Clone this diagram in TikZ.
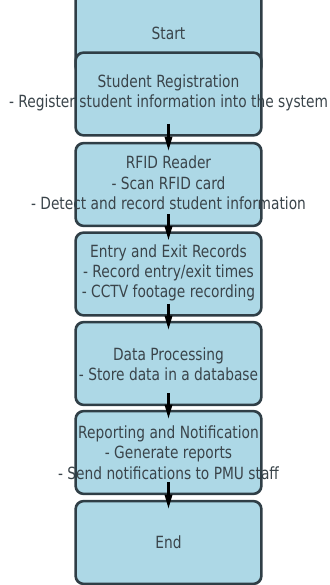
\documentclass[tikz,border=0pt]{standalone}
\usepackage{fontspec}
\setmainfont{DejaVu Sans}
\newfontfamily\lblfont[FakeStretch=0.82]{DejaVu Sans}
\usetikzlibrary{arrows.meta}
\definecolor{boxfill}{HTML}{ADD8E6}
\definecolor{boxline}{HTML}{2F3E46}
\definecolor{txt}{HTML}{3A444A}
\begin{document}
\begin{tikzpicture}[x=0.75pt,y=-0.75pt,
  box/.style={fill=boxfill, draw=boxline, line width=1.2pt, rounded corners=6pt,
    minimum width=138.75pt, minimum height=61.5pt, inner sep=0pt},
  rim/.style={draw=boxline, line width=1.2pt, rounded corners=6pt},
  lbl/.style={text=txt, font=\lblfont\fontsize{12.6pt}{15.2pt}\selectfont, align=center, inner sep=0pt},
  arr/.style={draw=black, line width=1.6pt, -{Triangle[length=10.5pt,width=5.5pt]}}]
\useasboundingbox (0,0) rectangle (329,585);
\clip (0,0) rectangle (329,585);
% Start
\node[box] (start) at (168.5,33) {};
\node[lbl] (tstart) at (168.5,33) {Start};
\draw[rim] (start.south west) rectangle (start.north east);
% Student Registration
\node[box] (sr) at (168.5,94) {};
\node[lbl] (tsr) at (168.5,93) {Student Registration\\- Register student information into the system};
\draw[rim] (sr.south west) rectangle (sr.north east);
% RFID
\node[box] (rfid) at (168.5,184.5) {};
\node[lbl] (trfid) at (168.5,183) {RFID Reader\\- Scan RFID card\\- Detect and record student information};
\draw[rim] (rfid.south west) rectangle (rfid.north east);
% Entry
\node[box] (entry) at (168.5,274) {};
\node[lbl] (tentry) at (168.5,273) {Entry and Exit Records\\- Record entry/exit times\\- CCTV footage recording};
\draw[rim] (entry.south west) rectangle (entry.north east);
% Data processing
\node[box] (dp) at (168.5,363.5) {};
\node[lbl] (tdp) at (168.5,364) {Data Processing\\- Store data in a database};
\draw[rim] (dp.south west) rectangle (dp.north east);
% Reporting
\node[box] (rep) at (168.5,452.5) {};
\node[lbl] (trep) at (168.5,452.5) {Reporting and Notification\\- Generate reports\\- Send notifications to PMU staff};
\draw[rim] (rep.south west) rectangle (rep.north east);
% End
\node[box] (end) at (168.5,542.5) {};
\node[lbl] (tend) at (168.5,542.5) {End};
\draw[rim] (end.south west) rectangle (end.north east);
% arrows
\draw[arr] ([yshift=9pt]sr.south) -- ([yshift=-6pt]rfid.north);
\draw[arr] ([yshift=9pt]rfid.south) -- ([yshift=-6pt]entry.north);
\draw[arr] ([yshift=9pt]entry.south) -- ([yshift=-6pt]dp.north);
\draw[arr] ([yshift=9pt]dp.south) -- ([yshift=-6pt]rep.north);
\draw[arr] ([yshift=9pt]rep.south) -- ([yshift=-6pt]end.north);
\end{tikzpicture}
\end{document}
